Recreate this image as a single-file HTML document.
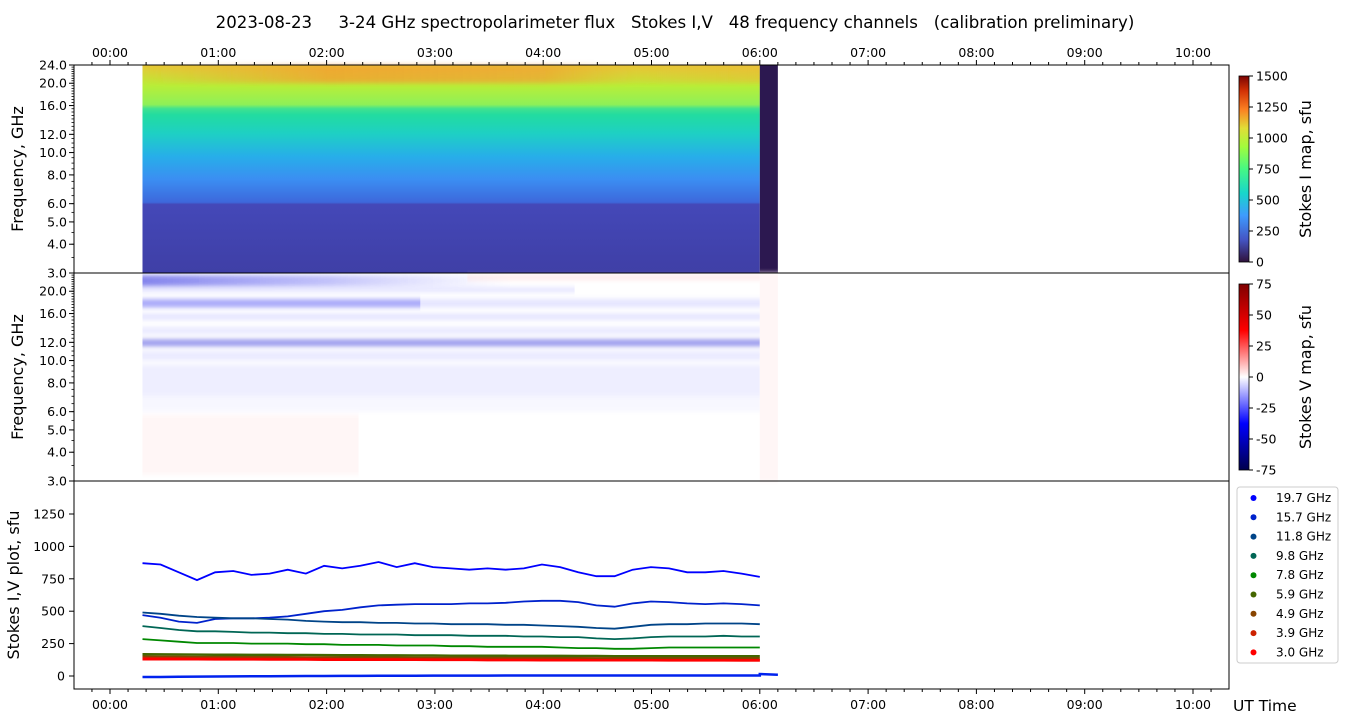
<!DOCTYPE html>
<html><head><meta charset="utf-8"><style>
body{margin:0;background:#fff;}
svg{display:block;font-family:"DejaVu Sans","Liberation Sans",sans-serif;}
</style></head><body>
<svg id="fig" width="1350" height="725" viewBox="0 0 1350 725" xmlns="http://www.w3.org/2000/svg">
<defs>
<linearGradient id="gI" x1="0" y1="1" x2="0" y2="0">
<stop offset="0" stop-color="#3f3fa6"/><stop offset="0.33" stop-color="#4448b8"/>
<stop offset="0.34" stop-color="#3d68db"/><stop offset="0.45" stop-color="#3b8ef2"/>
<stop offset="0.56" stop-color="#27aee9"/><stop offset="0.67" stop-color="#1ed0c4"/>
<stop offset="0.76" stop-color="#22dca0"/><stop offset="0.79" stop-color="#40e290"/><stop offset="0.81" stop-color="#8ef058"/>
<stop offset="0.90" stop-color="#b8ee38"/><stop offset="1" stop-color="#e8c636"/>
</linearGradient>
<linearGradient id="gOr" x1="0" y1="0" x2="1" y2="0">
<stop offset="0" stop-color="#f5a030" stop-opacity="0"/><stop offset="0.3" stop-color="#f59a30" stop-opacity="0.7"/>
<stop offset="0.65" stop-color="#f59a30" stop-opacity="0.6"/><stop offset="0.8" stop-color="#f5b030" stop-opacity="0.15"/><stop offset="1" stop-color="#f5b030" stop-opacity="0.4"/>
</linearGradient>
<linearGradient id="gBlueFade" x1="0" y1="0" x2="1" y2="0">
<stop offset="0" stop-color="#3030e0" stop-opacity="0.6"/><stop offset="0.5" stop-color="#5050f0" stop-opacity="0.35"/><stop offset="1" stop-color="#8080ff" stop-opacity="0"/>
</linearGradient>
<linearGradient id="cbI" x1="0" y1="1" x2="0" y2="0">
<stop offset="0" stop-color="#30123b"/><stop offset="0.12" stop-color="#4454c4"/><stop offset="0.25" stop-color="#3e9bfe"/>
<stop offset="0.37" stop-color="#18d6cb"/><stop offset="0.5" stop-color="#46f884"/><stop offset="0.62" stop-color="#a2fc3c"/>
<stop offset="0.72" stop-color="#e1dd37"/><stop offset="0.82" stop-color="#fb8022"/><stop offset="0.92" stop-color="#d23105"/><stop offset="1" stop-color="#7a0403"/>
</linearGradient>
<linearGradient id="cbV" x1="0" y1="1" x2="0" y2="0">
<stop offset="0" stop-color="#00004c"/><stop offset="0.25" stop-color="#0000ff"/><stop offset="0.5" stop-color="#ffffff"/>
<stop offset="0.75" stop-color="#ff0000"/><stop offset="1" stop-color="#7f0000"/>
</linearGradient>
<filter id="blur" x="-5%" y="-50%" width="110%" height="200%"><feGaussianBlur stdDeviation="0 2.5"/></filter>
</defs>
<g id="root"></g>
</svg>
<script>
// ---- data ----
const timeStartH = 0.3, timeStepH = (6-0.3)/34;
const ch19_7 = [870,860,800,740,800,810,780,790,820,790,850,830,850,880,840,870,840,830,820,830,820,830,860,840,800,770,770,820,840,830,800,800,810,790,765];
const ch15_7 = [470,450,420,410,440,445,445,450,460,480,500,510,530,545,550,555,555,555,560,560,565,575,580,580,570,545,535,560,575,570,560,555,560,555,545];
const ch11_8 = [490,480,465,455,450,445,445,440,435,425,420,415,415,410,410,405,405,400,400,400,395,395,390,385,380,370,365,380,395,400,400,405,405,405,400];
const ch9_8  = [385,370,355,345,345,340,335,335,330,330,325,325,320,320,320,315,315,315,310,310,310,305,305,300,300,290,285,290,300,305,305,305,310,305,305];
const ch7_8  = [285,275,265,255,255,255,250,250,250,245,245,240,240,240,235,235,235,230,230,225,225,225,225,220,215,215,210,210,215,220,220,220,220,220,220];
const ch5_9  = [168,167,166,165,164,164,163,163,162,162,161,160,160,159,159,158,158,157,157,156,156,155,155,155,154,154,153,153,153,153,152,152,152,152,152];
const ch4_9  = [148,147,147,146,146,145,145,144,144,143,143,142,142,141,141,140,140,140,139,139,138,138,138,137,137,136,136,136,136,135,135,135,135,135,135];
const ch3_9  = [138,137,136,135,135,134,133,133,132,132,131,130,130,129,129,128,128,127,127,126,126,125,125,124,124,123,123,122,122,122,121,121,121,120,120];
const ch3_0  = [130,130,129,129,128,128,128,127,127,127,126,126,126,125,125,125,124,124,124,123,123,123,122,122,122,121,121,121,121,120,120,120,120,120,120];
const stokesV = [-8,-8,-6,-5,-4,-3,-2,-2,-1,0,0,1,1,2,2,2,3,3,3,3,4,4,4,4,4,4,4,4,4,4,4,4,4,4,4];
const seriesNames = ["19.7 GHz","15.7 GHz","11.8 GHz","9.8 GHz","7.8 GHz","5.9 GHz","4.9 GHz","3.9 GHz","3.0 GHz"];
const seriesColors = ["#0000ff","#0022cc","#004488","#006655","#008800","#446600","#884400","#cc2200","#ff0000"];
const timeTickLabels = ["00:00","01:00","02:00","03:00","04:00","05:00","06:00","07:00","08:00","09:00","10:00"];
const freqTicks = [3,4,5,6,8,10,12,16,20,24];
const freqTicksV = [3,4,5,6,8,10,12,16,20];
const fluxTicks = [0,250,500,750,1000,1250];
const cbITicks = [0,250,500,750,1000,1250,1500];
const cbVTicks = [-75,-50,-25,0,25,50,75];

// ---- layout / scales ----
const L=74,R=1229, P1=[65,273], P2=[273,481], P3=[481,689];
const xT = h => 110 + h*108.3;
const yF = (f,p) => p[1] - Math.log(f/3)/Math.log(8)*(p[1]-p[0]);
const yFlux = v => 676 - v*0.1296;
const NS="http://www.w3.org/2000/svg";
const root=document.getElementById('root');
function el(tag,attrs,parent){const e=document.createElementNS(NS,tag);for(const k in attrs)e.setAttribute(k,attrs[k]);(parent||root).appendChild(e);return e;}
function txt(s,attrs,parent){const e=el('text',attrs,parent);e.textContent=s;return e;}

let t=txt("2023-08-23     3-24 GHz spectropolarimeter flux   Stokes I,V   48 frequency channels   (calibration preliminary)",{x:675,y:28,'font-size':16.6,'text-anchor':'middle',style:'white-space:pre'});



const x0=xT(timeStartH), x1=xT(6), x2=xT(6+10/60);
const g1=el('g',{});


el('rect',{x:x0,y:P1[0],width:x1-x0,height:P1[1]-P1[0],fill:'url(#gI)'},g1);
el('rect',{x:x0,y:P1[0],width:x1-x0,height:18,fill:'url(#gOr)',filter:'url(#blur)'},g1);
el('rect',{x:x1,y:P1[0],width:x2-x1,height:P1[1]-P1[0],fill:'#2c1850'},g1);

const g2=el('g',{filter:'url(#blur)'});


const bands=[[23.5,21,'url(#gBlueFade)',1,0.6],[20.8,19.8,'#9999ff',0.25,0.7],[18.5,17,'#4444ee',0.45,0.45],[18.5,17,'#aaaaff',0.3,1],[16,15,'#aaaaff',0.3,1],[14,13,'#bbbbff',0.3,1],[12.4,11.5,'#4444dd',0.5,1],[11,10,'#ccccff',0.4,1],[9.6,7,'#ddddff',0.5,1],[7,6,'#eeeeff',0.45,1],[5.8,3.2,'#ffeeee',0.5,0.35]];
bands.forEach(b=>{el('rect',{x:x0,y:yF(b[0],P2),width:(x1-x0)*b[4],height:yF(b[1],P2)-yF(b[0],P2),fill:b[2],opacity:b[3]},g2);});
el('rect',{x:xT(3.3),y:yF(23.5,P2),width:x1-xT(3.3),height:5,fill:'#ffdddd',opacity:0.6},g2);
el('rect',{x:x1,y:P2[0],width:x2-x1,height:P2[1]-P2[0],fill:'#fff6f6'},g2);

const allSeries=[ch19_7,ch15_7,ch11_8,ch9_8,ch7_8,ch5_9,ch4_9,ch3_9,ch3_0];
const g3=el('g',{});


allSeries.forEach((s,i)=>{
  const pts=s.map((v,j)=>xT(timeStartH+j*timeStepH).toFixed(1)+','+yFlux(v).toFixed(1)).join(' ');
  const p=el('polyline',{points:pts,fill:'none',stroke:seriesColors[i],'stroke-width':i>=5?2.5:1.8},g3);
  
  
});
const vpts=stokesV.map((v,j)=>xT(timeStartH+j*timeStepH).toFixed(1)+','+yFlux(v).toFixed(1)).join(' ');
const vl=el('polyline',{points:vpts+' '+xT(6).toFixed(1)+','+yFlux(15)+' '+x2.toFixed(1)+','+yFlux(10),fill:'none',stroke:'#0022ee','stroke-width':2.5},g3);



[P1,P2,P3].forEach((p,k)=>{
  const f=el('rect',{x:L,y:p[0],width:R-L,height:p[1]-p[0],fill:'none',stroke:'#000','stroke-width':1});
  
  
});
for(let m=-20;m<=620;m+=10){
  const x=xT(m/60); if(x<L||x>R) continue;
  const major=m%60===0;
  el('line',{x1:x,x2:x,y1:P1[0],y2:P1[0]-(major?5:3),stroke:'#000'});
  el('line',{x1:x,x2:x,y1:P3[1],y2:P3[1]+(major?5:3),stroke:'#000'});
}
timeTickLabels.forEach((s,i)=>{
  let a=txt(s,{x:xT(i),y:57,'font-size':12.5,'text-anchor':'middle'});
  
  
  let b=txt(s,{x:xT(i),y:709,'font-size':12.5,'text-anchor':'middle'});
  
  
});
function freqAxis(p,ticks){
  for(let f=3;f<=24;f+=0.5){const y=yF(f,p);el('line',{x1:L,x2:L-2.5,y1:y,y2:y,stroke:'#000','stroke-width':0.8});}
  ticks.forEach(f=>{const y=yF(f,p);el('line',{x1:L,x2:L-5,y1:y,y2:y,stroke:'#000'});
    const a=txt(f.toFixed(1),{x:L-7,y:y+4.5,'font-size':12.5,'text-anchor':'end'});
    
    });
}
freqAxis(P1,freqTicks); freqAxis(P2,freqTicksV);
fluxTicks.forEach(v=>{const y=yFlux(v);el('line',{x1:L,x2:L-5,y1:y,y2:y,stroke:'#000'});
  const a=txt(String(v),{x:L-9,y:y+4.5,'font-size':12.5,'text-anchor':'end'});
  
  });
[["Frequency, GHz",23,169,'y-axis-title-stokes-i'],["Frequency, GHz",23,377,'y-axis-title-stokes-v'],["Stokes I,V plot, sfu",19,585,'y-axis-title-plot']].forEach(a=>{
  const e=txt(a[0],{x:a[1],y:a[2],'font-size':16,'text-anchor':'middle',transform:`rotate(-90 ${a[1]} ${a[2]})`});
  
  
});
let ut=txt("UT Time",{x:1233,y:711,'font-size':15.5});



function cbar(y0,y1,grad,ticks,lo,hi,label,name){
  const g=el('g',{});
  
  
  el('rect',{x:1239,y:y0,width:10,height:y1-y0,fill:grad,stroke:'#000','stroke-width':0.8},g);
  ticks.forEach(v=>{const y=y1-(v-lo)/(hi-lo)*(y1-y0);
    el('line',{x1:1249,x2:1253,y1:y,y2:y,stroke:'#000'},g);
    txt(String(v),{x:1256,y:y+4.5,'font-size':12.5},g);});
  const cx=1311,cy=(y0+y1)/2;
  txt(label,{x:cx,y:cy,'font-size':16,'text-anchor':'middle',transform:`rotate(-90 ${cx} ${cy})`},g);
}
cbar(76,262,'url(#cbI)',cbITicks,0,1500,"Stokes I map, sfu",'stokes-i-colorbar');
cbar(284,470,'url(#cbV)',cbVTicks,-75,75,"Stokes V map, sfu",'stokes-v-colorbar');

const lg=el('g',{});


el('rect',{x:1237,y:487,width:101,height:176,rx:3,fill:'#fff',stroke:'#ccc'},lg);
seriesNames.forEach((n,i)=>{
  const y=498+i*19.3;
  const ge=el('g',{},lg);
  
  
  el('circle',{cx:1253.5,cy:y,r:3,fill:seriesColors[i]},ge);
  txt(n,{x:1276,y:y+4,'font-size':12},ge);
});
</script>
</body></html>
